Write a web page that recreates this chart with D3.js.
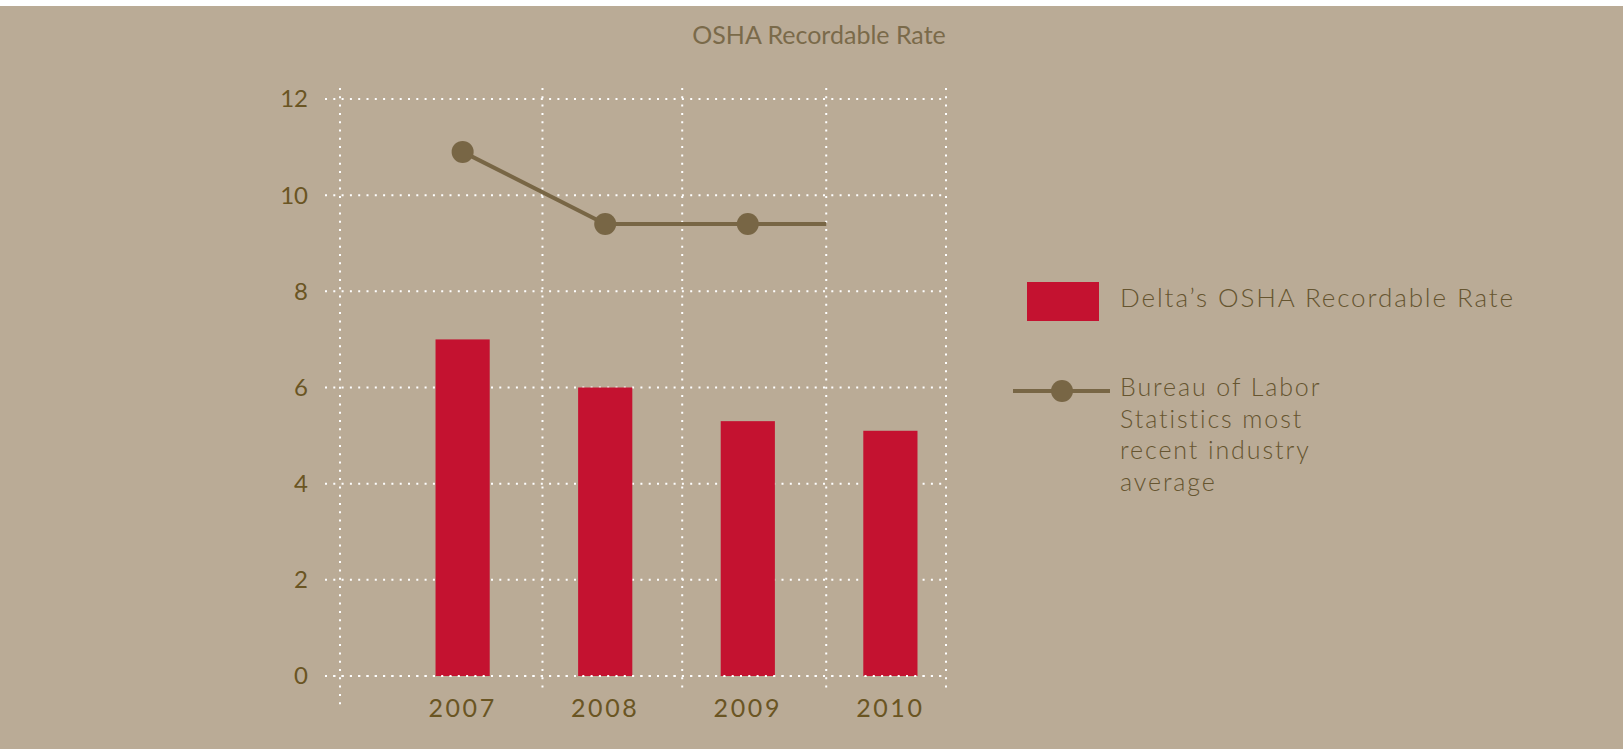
<!DOCTYPE html>
<html>
<head>
<meta charset="utf-8">
<script src="https://cdn.jsdelivr.net/npm/d3@7"></script>
<style>
    body { margin: 0; background: #fff; }
    svg { display: block; }
    text { font-family: Lato, "Open Sans", sans-serif; }
</style>
</head>
<body>
<svg id="chart"></svg>
<script>
// chart data
const years = [2007, 2008, 2009, 2010]
const deltaRate = [7.0, 6.0, 5.3, 5.1]
const blsYears = [2007, 2008, 2009]
const blsRate = [10.9, 9.4, 9.4]
const yTicks = [0, 2, 4, 6, 8, 10, 12]
// vertical grid lines sit between the years (in year units)
const xGrid = [2006.14, 2007.56, 2008.54, 2009.55, 2010.39]

const title = "OSHA Recordable Rate"
const legendBar = "Delta\u2019s OSHA Recordable Rate"
const legendLine = ["Bureau of Labor", "Statistics most", "recent industry", "average"]

const W = 1623, H = 749
const bg = "#baab96", red = "#c41230", olive = "#786645", tickColor = "#6a5523", legendColor = "#665530"

const svg = d3.select("#chart").attr("width", W).attr("height", H)

svg.append("rect")
    .attr("x", 0).attr("y", 6)
    .attr("width", W).attr("height", H - 6)
    .attr("fill", bg)

const x = d3.scaleLinear().domain([xGrid[0], xGrid[xGrid.length - 1]]).range([340, 946])
const y = d3.scaleLinear().domain([0, 12]).range([676, 99])

// title
svg.append("text")
    .attr("x", 819).attr("y", 44)
    .attr("text-anchor", "middle")
    .attr("fill", "#7a6a4a")
    .style("font-size", "25px")
    .text(title)

// horizontal dotted grid
svg.append("g")
    .selectAll("line")
    .data(yTicks)
    .join("line")
    .attr("x1", 325).attr("x2", 943)
    .attr("y1", d => y(d)).attr("y2", d => y(d))
    .attr("stroke", "#fff")
    .attr("stroke-width", 2)
    .attr("stroke-dasharray", "2 6.3")

// vertical dotted grid
svg.append("g")
    .selectAll("line")
    .data(xGrid)
    .join("line")
    .attr("x1", d => x(d)).attr("x2", d => x(d))
    .attr("y1", 88)
    .attr("y2", (d, i) => i === 0 ? 709 : 691)
    .attr("stroke", "#fff")
    .attr("stroke-width", 2)
    .attr("stroke-dasharray", "2 6.3")

// y axis labels
svg.append("g")
    .selectAll("text")
    .data(yTicks)
    .join("text")
    .attr("x", 308)
    .attr("y", d => y(d))
    .attr("dy", "0.35em")
    .attr("text-anchor", "end")
    .attr("fill", tickColor)
    .style("font-size", "24px")
    .text(d => d)

// bars
const barW = x(2007.19) - x(2006.81)
svg.append("g")
    .selectAll("rect")
    .data(years)
    .join("rect")
    .attr("x", d => x(d) - barW / 2)
    .attr("y", (d, i) => y(deltaRate[i]))
    .attr("width", barW)
    .attr("height", (d, i) => y(0) - y(deltaRate[i]))
    .attr("fill", red)

// bottom grid line drawn over the bars like in the original
svg.append("line")
    .attr("x1", 325).attr("x2", 943)
    .attr("y1", y(0)).attr("y2", y(0))
    .attr("stroke", "#fff")
    .attr("stroke-width", 2)
    .attr("stroke-dasharray", "2 6.3")

// x labels
svg.append("g")
    .selectAll("text")
    .data(years)
    .join("text")
    .attr("x", d => x(d))
    .attr("y", 717)
    .attr("text-anchor", "middle")
    .attr("fill", tickColor)
    .style("font-size", "25px")
    .style("letter-spacing", "2.6px")
    .text(d => d)

// industry average line, runs on to the next grid line
const linePts = blsYears.map((d, i) => [x(d), y(blsRate[i])])
linePts.push([x(xGrid[3]), y(blsRate[blsRate.length - 1])])

svg.append("path")
    .attr("d", d3.line()(linePts))
    .attr("fill", "none")
    .attr("stroke", olive)
    .attr("stroke-width", 4)

svg.append("g")
    .selectAll("circle")
    .data(blsYears)
    .join("circle")
    .attr("cx", d => x(d))
    .attr("cy", (d, i) => y(blsRate[i]))
    .attr("r", 11)
    .attr("fill", olive)

// legend
const legend = svg.append("g")

legend.append("rect")
    .attr("x", 1027).attr("y", 282)
    .attr("width", 72).attr("height", 39)
    .attr("fill", red)

legend.append("text")
    .attr("x", 1120).attr("y", 307)
    .attr("fill", legendColor)
    .style("font-size", "26px")
    .style("font-weight", 300)
    .style("letter-spacing", "1.9px")
    .text(legendBar)

legend.append("line")
    .attr("x1", 1013).attr("x2", 1110)
    .attr("y1", 391).attr("y2", 391)
    .attr("stroke", olive)
    .attr("stroke-width", 4)

legend.append("circle")
    .attr("cx", 1062).attr("cy", 391)
    .attr("r", 11)
    .attr("fill", olive)

legend.append("g")
    .selectAll("text")
    .data(legendLine)
    .join("text")
    .attr("x", 1120)
    .attr("y", (d, i) => 396 + i * 31.7)
    .attr("fill", legendColor)
    .style("font-size", "25px")
    .style("font-weight", 300)
    .style("letter-spacing", "1.9px")
    .text(d => d)
</script>
</body>
</html>
